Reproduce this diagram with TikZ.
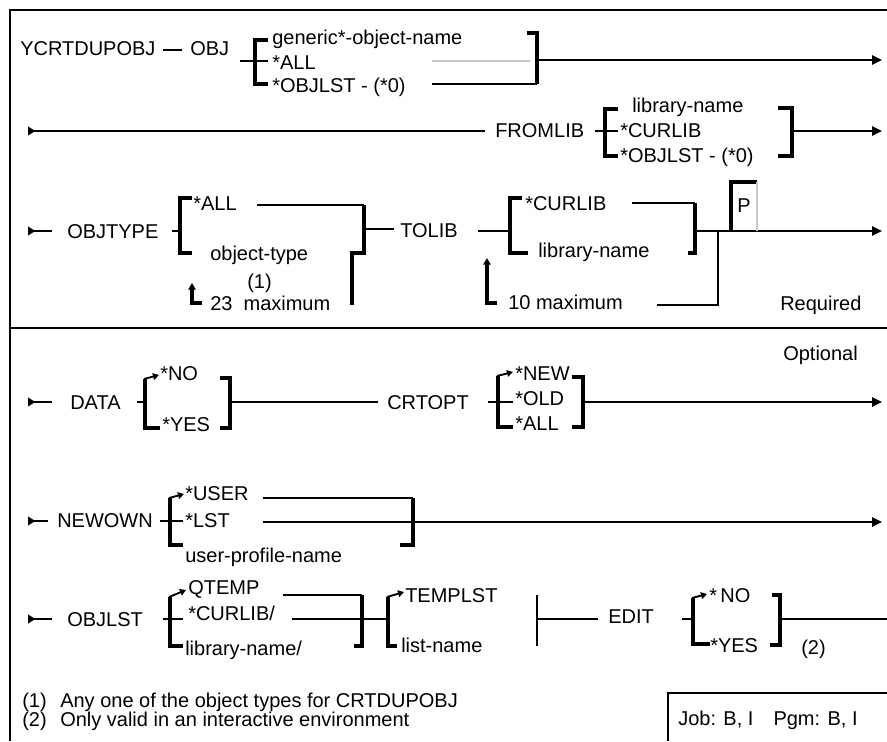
\documentclass[tikz,border=0pt]{standalone}
\usepackage{fontspec}
\setmainfont{Liberation Sans}
\usetikzlibrary{arrows.meta}
\begin{document}
\begin{tikzpicture}[x=0.75pt,y=-0.75pt,
 txt/.style={anchor=west,inner sep=0pt,text height=10.7pt,text depth=0pt,font=\fontsize{15}{18}\selectfont},
 ln/.style={line width=1.4pt},
 thin/.style={line width=1pt},
 brk/.style={line width=2.6pt},
 frm/.style={line width=2.2pt},
 endarrow/.style={-{Triangle[length=7.5pt,width=7pt]}},
 startmark/.style={{Triangle[reversed,length=5.5pt,width=6.5pt]}-},
 dflt/.style={-{Triangle[length=4.5pt,width=5pt]}},
 rep/.style={{Triangle[length=5pt,width=5.5pt]}-}]
\useasboundingbox (0,0) rectangle (887,741);
\fill[white] (0,0) rectangle (887,741);
% frame
\draw[frm] (10,741) -- (10,10) -- (887,10);
\draw[frm] (10,328) -- (887,328);
\draw[frm] (668,741) -- (668,693) -- (887,693);

% ---- row 1
\node[txt] (cmd) at (20,48) {YCRTDUPOBJ};
\node[txt] (obj) at (190,48) {OBJ};
\draw[ln] (163,50) -- (182,50);
\draw[ln] (240,61) -- (268,61);
\draw[brk] (268,40) -- (255,40) -- (255,84) -- (268,84);
\node[txt] (gen) at (272,37) {generic*-object-name};
\node[txt] (all1) at (272,62) {*ALL};
\node[txt] (ol1) at (272,85) {*OBJLST - (*0)};
\draw[thin,gray!45] (432,61) -- (530,61);
\draw[ln] (432,84) -- (537,84);
\draw[brk] (527,33) -- (537,33) -- (537,84);
\draw[ln,endarrow] (537,60) -- (882,60);

% ---- row 2
\node[txt] (fromlib) at (495,130) {FROMLIB};
\draw[ln,startmark] (28,131) -- (485,131);
\draw[ln] (595,131) -- (618,131);
\draw[brk] (618,109) -- (605,109) -- (605,156) -- (618,156);
\node[txt] (libn) at (632,105) {library-name};
\node[txt] (cur2) at (620,130) {*CURLIB};
\node[txt] (ol2) at (620,155) {*OBJLST - (*0)};
\draw[brk] (778,108) -- (792,108) -- (792,156) -- (778,156);
\draw[ln,endarrow] (792,131) -- (882,131);

% ---- row 3
\node[txt] (objtype) at (67,231) {OBJTYPE};
\draw[ln,startmark] (28,231) -- (52,231);
\draw[ln] (172,231) -- (180,231);
\draw[brk] (192,198) -- (180,198) -- (180,253) -- (192,253);
\node[txt] (all3) at (193,203) {*ALL};
\node[txt] (otype) at (210,253) {object-type};
\node[txt] (fn1) at (247,281) {(1)};
\node[txt] (max23) at (210,303) {23\ \ maximum};
\draw[ln] (257,205) -- (364,205);
\draw[brk] (364,205) -- (364,253) -- (352,253) -- (352,305);
\draw[brk,rep] (192,283) -- (192,303) -- (202,303);
\draw[ln] (364,229) -- (394,229);
\node[txt] (tolib) at (400,230) {TOLIB};
\draw[ln] (478,231) -- (510,231);
\draw[brk] (522,198) -- (510,198) -- (510,253) -- (528,253);
\node[txt] (cur3) at (525,203) {*CURLIB};
\node[txt] (lib3) at (538,250) {library-name};
\draw[ln] (632,203) -- (695,203);
\draw[brk] (695,203) -- (695,253) -- (688,253);
\draw[brk,rep] (487,258) -- (487,303) -- (497,303);
\node[txt] (max10) at (508,302) {10 maximum};
\draw[ln] (718,231) -- (718,305) -- (657,305);
\draw[ln,endarrow] (695,231) -- (882,231);
\draw[brk] (731,231) -- (731,182) -- (757,182);
\draw[thin,gray!40] (757,182) -- (757,231);
\node[txt] (p) at (737,205) {P};
\node[txt] (req) at (780,303) {Required};

% ---- row 4
\node[txt] (opt) at (783,353) {Optional};
\node[txt] (data) at (70,402) {DATA};
\draw[ln,startmark] (28,402) -- (52,402);
\draw[ln] (137,402) -- (145,402);
\draw[brk] (160,428) -- (145,428) -- (145,379);
\draw[ln,dflt] (144,379) -- (159,375);
\node[txt] (no4) at (160,373) {*NO};
\node[txt] (yes4) at (162,424) {*YES};
\draw[brk] (220,378) -- (230,378) -- (230,428) -- (220,428);
\draw[ln] (230,402) -- (378,402);
\node[txt] (crtopt) at (387,402) {CRTOPT};
\draw[ln] (488,402) -- (513,402);
\draw[brk] (513,427) -- (498,427) -- (498,376);
\draw[ln,dflt] (497,376) -- (513,372);
\node[txt] (new) at (515,373) {*NEW};
\node[txt] (old) at (515,398) {*OLD};
\node[txt] (all4) at (515,423) {*ALL};
\draw[brk] (572,377) -- (583,377) -- (583,427) -- (572,427);
\draw[ln,endarrow] (583,402) -- (882,402);

% ---- row 5
\node[txt] (newown) at (57,520) {NEWOWN};
\draw[ln,startmark] (28,521) -- (48,521);
\draw[ln] (160,521) -- (183,521);
\draw[brk] (183,545) -- (170,545) -- (170,498);
\draw[ln,dflt] (169,498) -- (184,494);
\node[txt] (user) at (185,493) {*USER};
\node[txt] (lst) at (185,520) {*LST};
\node[txt] (upn) at (185,555) {user-profile-name};
\draw[ln] (263,498) -- (413,498);
\draw[brk] (413,498) -- (413,545) -- (400,545);
\draw[ln,endarrow] (263,522) -- (882,522);

% ---- row 6
\node[txt] (objlst) at (67,619) {OBJLST};
\draw[ln,startmark] (28,619) -- (52,619);
\draw[ln] (163,619) -- (183,619);
\draw[brk] (183,646) -- (170,646) -- (170,597);
\draw[ln,dflt] (169,597) -- (186,590);
\node[txt] (qtemp) at (188,587) {QTEMP};
\node[txt] (cur6) at (188,613) {*CURLIB/};
\node[txt] (lib6) at (185,648) {library-name/};
\draw[ln] (283,595) -- (362,595);
\draw[brk] (362,595) -- (362,646) -- (354,646);
\draw[ln] (292,619) -- (388,619);
\draw[brk] (397,646) -- (388,646) -- (388,597);
\draw[ln,dflt] (387,597) -- (404,592);
\node[txt] (templst) at (405,595) {TEMPLST};
\node[txt] (listn) at (401,645) {list-name};
\draw[thin] (537,595) -- (537,646);
\draw[ln] (537,619) -- (598,619);
\node[txt] (edit) at (608,616) {EDIT};
\draw[ln] (682,619) -- (693,619);
\draw[brk] (710,644) -- (693,644) -- (693,598);
\draw[ln,dflt] (692,598) -- (707,594);
\node[txt] (no6) at (709,595) {*\,NO};
\node[txt] (yes6) at (710,645) {*YES};
\draw[brk] (772,595) -- (780,595) -- (780,645) -- (770,645);
\node[txt] (fn2) at (801,647) {(2)};
\draw[ln] (780,619) -- (887,619);

% ---- footnotes
\node[txt] (f1n) at (22,700) {(1)};
\node[txt] (f1) at (60,700) {Any one of the object types for CRTDUPOBJ};
\node[txt] (f2n) at (22,719) {(2)};
\node[txt] (f2) at (60,719) {Only valid in an interactive environment};
\node[txt] (job) at (678,718) {Job: B, I\quad Pgm: B, I};
\end{tikzpicture}
\end{document}
